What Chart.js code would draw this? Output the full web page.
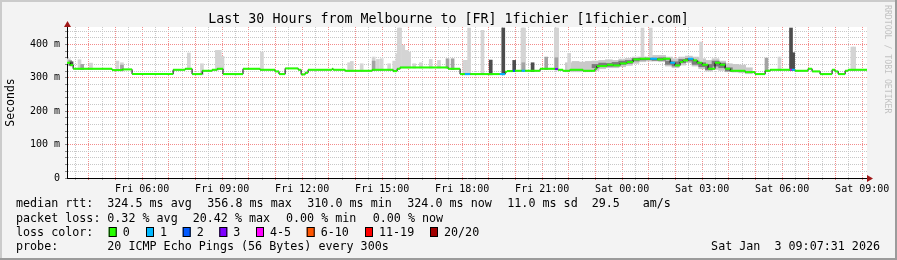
<!DOCTYPE html>
<html>
<head>
<meta charset="utf-8">
<title>Smokeping - Melbourne to 1fichier</title>
<script src="https://cdn.jsdelivr.net/npm/chart.js@4"></script>
<style>
  html, body { margin: 0; padding: 0; background: #f3f3f3; }
  #wrap { width: 897px; height: 260px; }
</style>
</head>
<body>
<div id="wrap"><canvas id="smoke" width="897" height="260"></canvas></div>
<script>
// --- time range (hours since Fri 00:00) ---
const START = 3.18;
const END = 33.18;
const Y_MAX = 452;

// --- median rtt (ms), one value per step, held until the next time ---
const medianTimes = [3.18, 3.30, 3.41, 4.87, 5.25, 5.62, 7.16, 7.61, 7.87, 8.25, 8.62, 8.81, 9.03, 9.78, 10.42,
  10.98, 11.13, 11.36, 11.85, 11.96, 12.11, 12.22, 13.12, 13.16, 13.61, 14.62, 15.41, 15.56, 15.67, 17.47,
  17.92, 18.10, 18.30, 19.41, 19.61, 19.68, 19.90, 19.98, 20.23, 20.36, 20.92, 21.48, 21.59, 21.78, 22.04,
  22.53, 22.98, 23.05, 23.43, 23.66, 23.92, 24.18, 24.41, 24.67, 25.05, 25.31, 25.53, 25.80, 25.98, 26.17,
  26.28, 26.47, 26.66, 26.81, 27.00, 27.22, 27.48, 27.67, 27.86, 28.05, 28.61, 28.98, 29.36, 29.55, 30.30,
  30.36, 30.48, 30.97, 31.12, 31.42, 31.87, 31.98, 32.10, 32.36, 32.47];
const medianValues = [345, 338, 327, 323, 325, 311, 324, 327, 311, 321, 324, 327, 311, 327, 324,
  319, 311, 328, 324, 310, 315, 324, 327, 324, 321, 324, 320, 327, 331, 327,
  311, 311, 311, 311, 318, 320, 321, 321, 321, 321, 327, 326, 324, 321, 324,
  321, 327, 335, 339, 337, 343, 347, 355, 357, 357, 355, 357, 345, 337, 347,
  352, 357, 352, 345, 339, 327, 345, 339, 327, 321, 317, 311, 321, 324, 324,
  324, 321, 327, 319, 311, 324, 319, 311, 321, 324];

// --- steps with packet loss (index into lossColors) ---
const lossStarts = [18.10, 19.41, 19.90, 20.23, 21.48, 25.05, 25.80, 26.47, 30.30, 30.36];
const lossLevels = [1, 1, 2, 1, 3, 1, 1, 1, 4, 1];
const lossLabels = ['0', '1', '2', '3', '4-5', '6-10', '11-19', '20/20'];
const lossColors = ['#26ff00', '#00b8ff', '#0059ff', '#7e00ff', '#ff00ff', '#ff5500', '#ff0000', '#a10000'];

// --- smoke spikes (top of the ping spread, ms) ---
const lightTimes = [3.25, 3.65, 4.08, 5.07, 5.24, 7.75, 8.24, 8.80, 8.91, 9.01, 10.49, 13.76, 13.86, 14.23,
  14.68, 14.84, 14.98, 15.26, 15.45, 15.57, 15.62, 15.67, 15.79, 15.92, 16.01, 16.20, 16.45, 16.82, 17.13,
  18.08, 18.14, 18.20, 18.26, 18.76, 20.26, 20.32, 21.51, 21.56, 22.01, 24.76, 25.07, 26.96, 29.90, 32.63, 32.70];
const lightTops = [357, 354, 344, 350, 345, 374, 342, 382, 382, 364, 377, 345, 349, 342,
  362, 355, 357, 342, 350, 372, 449, 449, 397, 382, 377, 342, 345, 355, 352,
  352, 352, 352, 449, 442, 449, 449, 449, 449, 373, 449, 449, 407, 362, 392, 392];
const midTimes = [3.30, 3.75, 5.24, 14.68, 17.45, 17.64, 20.29, 21.15, 21.53, 29.41];
const midTops = [352, 340, 338, 350, 357, 357, 345, 362, 360, 359];
const darkTimes = [3.35, 19.07, 19.54, 19.95, 20.64, 30.33, 30.41];
const darkTops = [348, 353, 449, 352, 345, 449, 375];

// --- denser smoke band, Fri 22:00 .. Sat 04:45 ---
const bandTimes = [22.0, 22.25, 22.5, 22.75, 23.0, 23.25, 23.5, 23.75, 24.0, 24.25, 24.5, 24.75, 25.0, 25.25,
  25.5, 25.75, 26.0, 26.25, 26.5, 26.75, 27.0, 27.25, 27.5, 27.75, 28.0, 28.25, 28.5, 28.75];
const bandLows = [318, 318, 318, 318, 322, 327, 330, 330, 333, 337, 343, 348, 350, 350,
  348, 335, 330, 338, 345, 335, 327, 320, 325, 322, 318, 317, 315, 312];
const bandHighs = [345, 349, 347, 349, 350, 352, 354, 352, 356, 358, 362, 362, 362, 367,
  367, 362, 357, 362, 365, 362, 357, 352, 357, 350, 342, 340, 338, 330];
const coreTimes = [23.0, 23.25, 23.5, 23.75, 24.0, 24.25, 24.5, 24.75, 25.0, 25.25, 25.5, 25.75, 26.0, 26.25,
  26.5, 26.75, 27.0, 27.25, 27.5, 27.75, 28.0];
const coreLows = [330, 333, 334, 335, 340, 343, 350, 353, 354, 352, 352, 340, 335, 345,
  350, 340, 333, 324, 335, 330, 320];
const coreHighs = [340, 344, 343, 346, 350, 352, 358, 359, 359, 359, 360, 350, 348, 355,
  358, 350, 345, 340, 350, 344, 330];

// --- legend texts ---
const rttItems = ['324.5 ms avg', '356.8 ms max', '310.0 ms min', '324.0 ms now', '11.0 ms sd', '29.5', 'am/s'];
const rttX = [107.3, 207.3, 307.3, 407.3, 507.3, 591.7, 642.7];
const lossItems = ['0.32 % avg', '20.42 % max', '0.00 % min', '0.00 % now'];
const lossX = [107.3, 192.7, 286, 372.7];
const boxX = [108.7, 146, 182.7, 219.3, 256, 306.7, 365, 430];

const MONO = '"DejaVu Sans Mono", monospace';
const MAJOR = '#f28c8c';
const MINOR = '#c8c8c8';

function medianAt(t) {
  let v = medianValues[0];
  for (let i = 0; i < medianTimes.length; i++) {
    if (medianTimes[i] <= t) v = medianValues[i]; else break;
  }
  return v;
}

function lossOf(i) {
  const k = lossStarts.indexOf(medianTimes[i]);
  return k < 0 ? 0 : lossLevels[k];
}

// horizontal pieces of the median, separated by gaps so the colour can change per step
const segData = [];
medianTimes.forEach((t, i) => {
  const t2 = i + 1 < medianTimes.length ? medianTimes[i + 1] : END;
  segData.push({ x: t, y: medianValues[i] }, { x: t2, y: medianValues[i] }, { x: t2, y: null });
});
// the same median as a stepped line, gives the black risers between steps
const stepData = medianTimes.map((t, i) => ({ x: t, y: medianValues[i] }))
  .concat([{ x: END, y: medianValues[medianValues.length - 1] }]);

function spikes(times, tops) {
  return times.map((t, i) => ({ x: t, y: [medianAt(t) - 2, tops[i]] }));
}
function band(times, lows, highs) {
  return times.map((t, i) => ({ x: t, y: [lows[i], highs[i]] }));
}

// x ticks every half hour, starting at 03:30
const xTickValues = [];
for (let h = 3.5; h <= 33.001; h += 0.5) xTickValues.push(h);
const yTickValues = [];
for (let v = 0; v <= 440; v += 20) yTickValues.push(v);

function hourLabel(v) {
  if (Math.abs(v % 3) > 1e-6) return '';
  const day = v < 24 ? 'Fri' : 'Sat';
  const hh = String(Math.round(v % 24)).padStart(2, '0');
  return day + ' ' + hh + ':00';
}

function isWhole(v, step) {
  return Math.abs(v / step - Math.round(v / step)) < 1e-6;
}

function xIsHour(c) {
  const v = xTickValues[c.index];
  return v !== undefined && isWhole(v, 1);
}
function yIsMajor(c) {
  const v = yTickValues[c.index];
  return v !== undefined && isWhole(v, 100);
}

// --- frame, title, legend and the little rrdtool details ---
const rrdFrame = {
  id: 'rrdFrame',
  beforeDraw(chart) {
    const { ctx, chartArea: a } = chart;
    ctx.save();
    ctx.fillStyle = '#f3f3f3';
    ctx.fillRect(0, 0, 897, 260);
    ctx.fillStyle = '#cbcbcb';
    ctx.fillRect(0, 0, 897, 2);
    ctx.fillRect(0, 0, 2, 260);
    ctx.fillStyle = '#9b9b9b';
    ctx.fillRect(0, 258, 897, 2);
    ctx.fillRect(895, 0, 2, 260);
    ctx.fillStyle = '#ffffff';
    ctx.fillRect(a.left, a.top, a.right - a.left, a.bottom - a.top);
    ctx.restore();
  },
  afterDraw(chart) {
    const { ctx, chartArea: a } = chart;
    ctx.save();

    // title
    ctx.fillStyle = '#000';
    ctx.font = '13.3px ' + MONO;
    ctx.textAlign = 'center';
    ctx.textBaseline = 'alphabetic';
    ctx.fillText('Last 30 Hours from Melbourne to [FR] 1fichier [1fichier.com]', 448.5, 23.3);

    // axis arrows
    ctx.fillStyle = '#a01818';
    ctx.beginPath();
    ctx.moveTo(a.left - 3, a.top);
    ctx.lineTo(a.left + 4, a.top);
    ctx.lineTo(a.left + 0.5, a.top - 6);
    ctx.closePath();
    ctx.fill();
    ctx.beginPath();
    ctx.moveTo(a.right, a.bottom - 3);
    ctx.lineTo(a.right, a.bottom + 4);
    ctx.lineTo(a.right + 6, a.bottom + 0.5);
    ctx.closePath();
    ctx.fill();

    // legend
    ctx.font = '11.7px ' + MONO;
    ctx.textAlign = 'left';
    ctx.fillStyle = '#000';
    ctx.fillText('median rtt:', 16, 207);
    rttItems.forEach((s, i) => ctx.fillText(s, rttX[i], 207));
    ctx.fillText('packet loss:', 16, 221.5);
    lossItems.forEach((s, i) => ctx.fillText(s, lossX[i], 221.5));
    ctx.fillText('loss color:', 16, 235.5);
    lossLabels.forEach((s, i) => {
      ctx.fillStyle = lossColors[i];
      ctx.fillRect(boxX[i], 227, 8, 10);
      ctx.strokeStyle = '#000';
      ctx.lineWidth = 1;
      ctx.strokeRect(boxX[i] + 0.5, 227.5, 7, 9);
      ctx.fillStyle = '#000';
      ctx.fillText(s, boxX[i] + 14, 235.5);
    });
    ctx.fillText('probe:', 16, 250);
    ctx.fillText('20 ICMP Echo Pings (56 Bytes) every 300s', 107.3, 250);
    ctx.textAlign = 'right';
    ctx.fillText('Sat Jan  3 09:07:31 2026', 880, 250);

    // watermark
    ctx.fillStyle = '#c2c2c2';
    ctx.font = '8.2px ' + MONO;
    ctx.textAlign = 'left';
    ctx.textBaseline = 'middle';
    ctx.translate(887, 5);
    ctx.rotate(Math.PI / 2);
    ctx.fillText('RRDTOOL / TOBI OETIKER', 0, 0);
    ctx.restore();
  }
};

// all smoke bars share one stack so barThickness is honoured and nothing is shifted sideways
const barCommon = { type: 'bar', stack: 'smoke', borderWidth: 0, borderSkipped: false };

new Chart(document.getElementById('smoke'), {
  type: 'bar',
  data: {
    datasets: [
      {
        type: 'line', data: segData, borderColor: lossColors[0], borderWidth: 2, borderCapStyle: 'butt',
        pointRadius: 0, spanGaps: false, order: 0,
        segment: { borderColor: c => lossColors[lossOf(Math.floor(c.p0DataIndex / 3))] }
      },
      { type: 'line', data: stepData, stepped: true, borderColor: '#000', borderWidth: 1, pointRadius: 0, order: 1 },
      Object.assign({ data: spikes(darkTimes, darkTops), backgroundColor: '#4d4d4d', barThickness: 3, order: 2 }, barCommon),
      Object.assign({ data: band(coreTimes, coreLows, coreHighs), backgroundColor: '#7c7c7c', barThickness: 7, order: 3 }, barCommon),
      Object.assign({ data: spikes(midTimes, midTops), backgroundColor: '#a3a3a3', barThickness: 3, order: 4 }, barCommon),
      Object.assign({ data: spikes(lightTimes, lightTops), backgroundColor: '#d4d4d4', barThickness: 3, order: 5 }, barCommon),
      Object.assign({ data: band(bandTimes, bandLows, bandHighs), backgroundColor: '#c9c9c9', barThickness: 7, order: 6 }, barCommon)
    ]
  },
  options: {
    responsive: false,
    animation: false,
    events: [],
    layout: { padding: { top: 27, right: 30, left: 0, bottom: 0 } },
    plugins: { legend: { display: false }, tooltip: { enabled: false }, title: { display: false } },
    scales: {
      x: {
        type: 'linear', min: START, max: END, offset: false,
        afterBuildTicks: ax => { ax.ticks = xTickValues.map(v => ({ value: v })); },
        afterFit: ax => { ax.height = 82; },
        grid: {
          offset: false, lineWidth: 1, drawTicks: true, tickLength: 2,
          color: c => xIsHour(c) ? MAJOR : MINOR,
          tickColor: c => xIsHour(c) ? '#e07070' : '#aaaaaa'
        },
        border: { display: true, color: '#000', width: 1, dash: [1, 1] },
        ticks: {
          autoSkip: false, maxRotation: 0, minRotation: 0, padding: 3,
          color: '#000', font: { family: MONO, size: 10 },
          callback: v => hourLabel(v)
        }
      },
      y: {
        type: 'linear', min: 0, max: Y_MAX, stacked: false,
        afterBuildTicks: ax => { ax.ticks = yTickValues.map(v => ({ value: v })); },
        afterFit: ax => { ax.width = 67; },
        grid: {
          lineWidth: 1, drawTicks: true, tickLength: 2,
          color: c => yIsMajor(c) ? MAJOR : MINOR,
          tickColor: '#888888'
        },
        border: { display: true, color: '#000', width: 1, dash: [1, 1] },
        ticks: {
          autoSkip: false, padding: 5, color: '#000', font: { family: MONO, size: 10 },
          callback: v => isWhole(v, 100) ? (v === 0 ? '0' : Math.round(v) + ' m') : ''
        },
        title: {
          display: true, text: 'Seconds', color: '#000',
          font: { family: MONO, size: 11.5 }, padding: { top: 4, bottom: 0 }
        }
      }
    }
  },
  plugins: [rrdFrame]
});
</script>
</body>
</html>
